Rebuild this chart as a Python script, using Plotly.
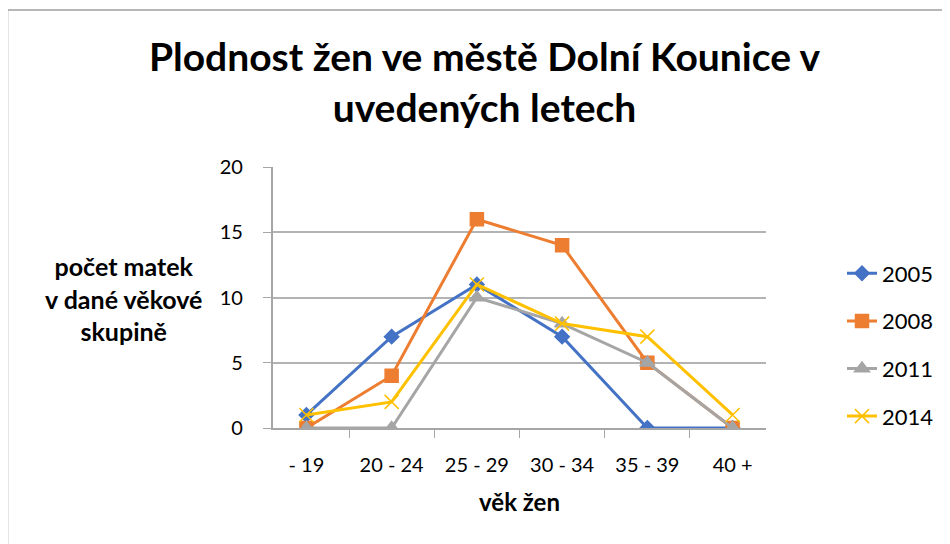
import plotly.graph_objects as go

categories = ["- 19", "20 - 24", "25 - 29", "30 - 34", "35 - 39", "40 +"]
years = ["2005", "2008", "2011", "2014"]
v2005 = [1, 7, 11, 7, 0, 0]
v2008 = [0, 4, 16, 14, 5, 0]
v2011 = [0, 0, 10, 8, 5, 0]
v2014 = [1, 2, 11, 8, 7, 1]
y_ticks = [0, 5, 10, 15, 20]

series = [v2005, v2008, v2011, v2014]
colors = ["#4472C4", "#ED7D31", "#A5A5A5", "#FFC000"]
symbols = ["diamond", "square", "triangle-up", "x-thin-open"]
sizes = [11, 13, 13, 14]

FONT = "Lato"

fig = go.Figure()
for name, vals, col, sym, sz in zip(years, series, colors, symbols, sizes):
    fig.add_trace(go.Scatter(
        x=categories, y=vals, name=name, mode="lines+markers",
        line=dict(color=col, width=3),
        marker=dict(symbol=sym, size=sz, color=col,
                    line=dict(color=col, width=1.5)),
        legendgroup=name,
    ))

# page is offset by 8px (body margin); work in page coordinates minus 8
OFF = 8
W, H = 942, 536
L, T = 273 - OFF, 167 - OFF
Rr, Bb = 767 - OFF, 428 - OFF
R, B = W - Rr, H - Bb
pw, ph = Rr - L, Bb - T

def px(x):
    return (x - OFF - L) / pw

def py(y):
    return (Bb - (y - OFF)) / ph

# hidden trailing padding keeps y tick labels away from the axis
pad = "<span style='color:rgba(0,0,0,0)'>0.</span>"
y_ticktext = [f"{v}{pad}" for v in y_ticks]

fig.update_layout(
    width=W, height=H, autosize=False,
    margin=dict(l=L, r=R, t=T, b=B),
    paper_bgcolor="white", plot_bgcolor="white",
    font=dict(family=FONT, size=20, color="black"),
    title=dict(
        text="<b>Plodnost žen ve městě Dolní Kounice v<br>uvedených letech</b>",
        x=(484.5 - OFF) / W, xanchor="center", y=0.882, yanchor="top",
        font=dict(family=FONT, size=39, color="black"),
    ),
    xaxis=dict(
        type="category", tickson="boundaries", ticks="outside", ticklen=8,
        tickcolor="#a6a6a6", showline=True, linecolor="#a6a6a6", linewidth=1.5,
        showgrid=False, zeroline=False,
        tickfont=dict(family=FONT, size=20, color="black"),
        ticklabelstandoff=18,
        title=dict(text="<b>věk žen</b>", standoff=19,
                   font=dict(family=FONT, size=24, color="black")),
    ),
    yaxis=dict(
        range=[0, 20], tickvals=y_ticks, ticktext=y_ticktext,
        ticks="outside", ticklen=8,
        tickcolor="#a6a6a6", showline=True, linecolor="#a6a6a6", linewidth=1.5,
        showgrid=True, gridcolor="#b3b3b3", gridwidth=1.5, zeroline=False,
        tickfont=dict(family=FONT, size=20, color="black"),
    ),
    legend=dict(
        x=px(842), xanchor="left", y=py(345), yanchor="middle",
        font=dict(family=FONT, size=22, color="black"),
        tracegroupgap=16, bgcolor="rgba(0,0,0,0)",
    ),
    showlegend=True,
)

fig.add_annotation(
    xref="paper", yref="paper", x=px(123), y=py(298),
    text="<b>počet matek<br>v dané věkové<br>skupině</b>",
    showarrow=False, xanchor="center", yanchor="middle", align="center",
    font=dict(family=FONT, size=25, color="black"),
)

fig.add_shape(
    type="rect", xref="paper", yref="paper",
    x0=px(7), x1=px(960), y0=py(560), y1=py(10),
    line=dict(color="#a0a0a0", width=1.5), fillcolor="rgba(0,0,0,0)", layer="below",
)

fig.write_html("out.html")
